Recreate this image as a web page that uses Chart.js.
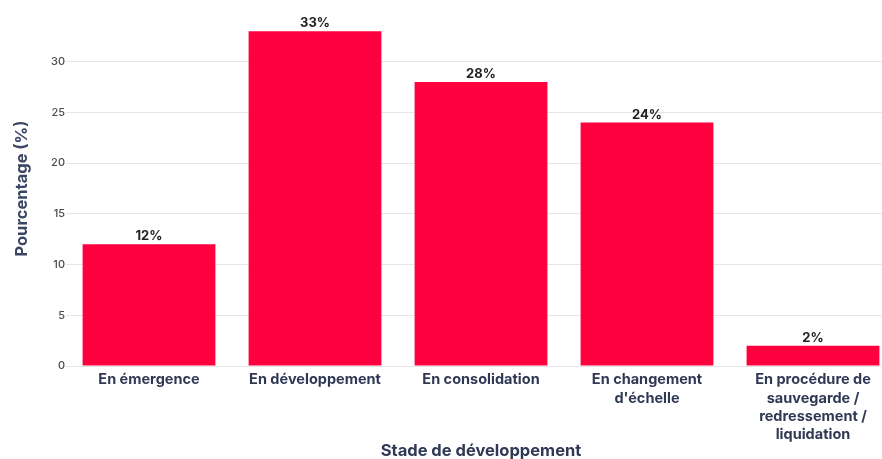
<!DOCTYPE html>
<html lang="fr">
<head>
<meta charset="utf-8">
<title>Stade de développement</title>
<script src="https://cdn.jsdelivr.net/npm/chart.js@4.4.1/dist/chart.umd.min.js"></script>
<style>
    html, body { margin: 0; padding: 0; background: #fff; overflow: hidden; }
    #wrap { width: 924px; height: 464px; }
</style>
</head>
<body>
<div id="wrap"><canvas id="chart-stade"></canvas></div>
<script>
// données
const STADES = [
    'En émergence',
    'En développement',
    'En consolidation',
    ['En changement', "d'échelle"],
    ['En procédure de', 'sauvegarde /', 'redressement /', 'liquidation']
];
const POURCENTAGES = [12, 33, 28, 24, 2];
const Y_TICKS = [0, 5, 10, 15, 20, 25, 30];

const RED  = '#ff003f';
const NAVY = '#2f3854';
const FONT = 'Inter, "Noto Sans", sans-serif';

// étiquettes au-dessus des barres
const barLabels = {
    id: 'barLabels',
    afterDatasetsDraw(chart) {
        const ctx = chart.ctx;
        const meta = chart.getDatasetMeta(0);
        ctx.save();
        ctx.font = `700 13px ${FONT}`;
        ctx.fillStyle = '#222';
        ctx.textAlign = 'center';
        ctx.textBaseline = 'alphabetic';
        meta.data.forEach((bar, i) => {
            ctx.fillText(POURCENTAGES[i] + '%', bar.x, bar.y - 4);
        });
        ctx.restore();
    }
};

new Chart(document.getElementById('chart-stade').getContext('2d'), {
    type: 'bar',
    data: {
        labels: STADES,
        datasets: [{
            data: POURCENTAGES,
            backgroundColor: RED,
            borderWidth: 0,
            barPercentage: 0.8,
            categoryPercentage: 1
        }]
    },
    plugins: [barLabels],
    options: {
        responsive: true, maintainAspectRatio: false, animation: false,
        layout: { padding: { top: 11, right: 28, left: 0, bottom: 0 } },
        plugins: {
            legend: { display: false },
            tooltip: { enabled: false }
        },
        scales: {
            x: {
                grid: { display: false },
                border: { display: false },
                ticks: {
                    color: NAVY, padding: -3, maxRotation: 0, autoSkip: false,
                    font: { family: FONT, size: 14.5, weight: '700', lineHeight: 1.25 }
                },
                title: {
                    display: true, text: 'Stade de développement', color: NAVY,
                    font: { family: FONT, size: 16.5, weight: '700', lineHeight: 1.2 },
                    padding: { top: 0, bottom: 3 }
                },
                afterFit(scale) { scale.height = 98; }
            },
            y: {
                min: 0, max: 35,
                afterBuildTicks(scale) { scale.ticks = Y_TICKS.map(v => ({ value: v })); },
                grid: { color: '#e6e6e6', drawTicks: false },
                border: { display: false },
                ticks: {
                    color: '#4a4a4a', padding: 1,
                    font: { family: FONT, size: 11, weight: '500' }
                },
                title: {
                    display: true, text: 'Pourcentage (%)', color: '#3b4664',
                    font: { family: FONT, size: 16.5, weight: '700', lineHeight: 1.2 },
                    padding: { top: 12, bottom: 0 }
                },
                afterFit(scale) { scale.width = 66; }
            }
        }
    }
});
</script>
</body>
</html>
